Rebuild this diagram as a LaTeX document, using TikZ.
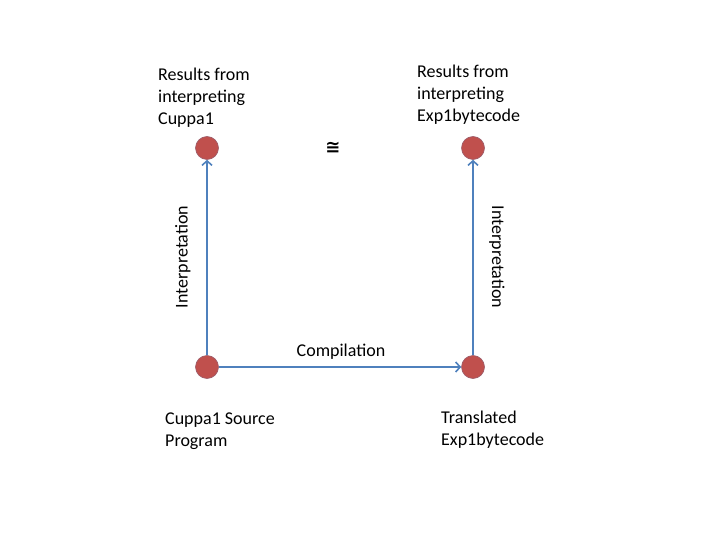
\documentclass[tikz,border=0pt]{standalone}
\usepackage{fontspec}
\setmainfont{Carlito}
\newfontfamily\symfont{DejaVu Sans}
\usetikzlibrary{arrows.meta}
\definecolor{dotred}{HTML}{C0504D}
\definecolor{dotedge}{HTML}{9A5A68}
\definecolor{linkblue}{HTML}{4F81BD}
\tikzset{
  dot/.style={circle, fill=dotred, draw=dotedge, line width=0.6pt, minimum size=23pt, inner sep=0pt},
  link/.style={draw=linkblue, line width=2pt, -{Straight Barb[length=4.5pt,width=10pt,line width=1.6pt]}},
  lbl/.style={font={\fontsize{18}{22}\selectfont}, align=left, inner sep=0pt, text=black},
}
\begin{document}
\begin{tikzpicture}[x=1pt,y=1pt]
\useasboundingbox (0,0) rectangle (720,-540);
\node[dot] (rl) at (207,-148) {};
\node[dot] (rr) at (473,-148) {};
\node[dot] (sl) at (207,-367) {};
\node[dot] (sr) at (473,-367) {};
\draw[link] (sl) -- (rl);
\draw[link] (sl) -- (sr);
\draw[link] (sr) -- (rr);
% base anchor of a multi-line node is the baseline of its last line
\node[lbl, anchor=base west] (tl) at (158,-124.5) {Results from\\interpreting\\Cuppa1};
\node[lbl, anchor=base west] (tr) at (417,-121.5) {Results from\\interpreting\\Exp1bytecode};
\node[lbl, anchor=base west] (bl) at (165,-446) {Cuppa1 Source\\Program};
\node[lbl, anchor=base west] (br) at (441,-445) {Translated\\Exp1bytecode};
\node[lbl, anchor=base] (comp) at (341,-356) {Compilation};
\node[lbl, anchor=base, rotate=90] (il) at (187.5,-257) {Interpretation};
\node[lbl, anchor=base, rotate=-90] (ir) at (492,-257) {Interpretation};
\node[font={\symfont\bfseries\fontsize{18}{20}\selectfont}, inner sep=0pt] (cong) at (333,-148) {≅};
\end{tikzpicture}
\end{document}
